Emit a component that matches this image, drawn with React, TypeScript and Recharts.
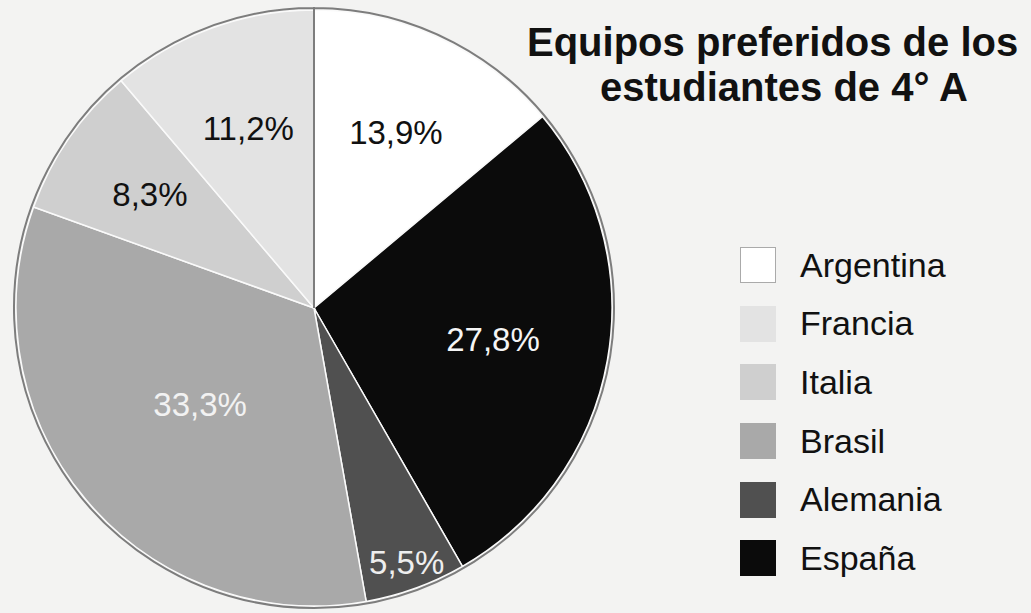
import { PieChart, Pie, Cell, Legend } from 'recharts';

// Equipos preferidos de los estudiantes de 4° A (porcentajes)
// orden en sentido horario desde las 12
const equipos = ['Argentina', 'España', 'Alemania', 'Brasil', 'Italia', 'Francia'];
const porcentajes = [13.9, 27.8, 5.5, 33.3, 8.3, 11.2];
const etiquetas = ['13,9%', '27,8%', '5,5%', '33,3%', '8,3%', '11,2%'];
const ordenLeyenda = ['Argentina', 'Francia', 'Italia', 'Brasil', 'Alemania', 'España'];

const colores: Record<string, string> = {
  Argentina: '#ffffff',
  España: '#0b0b0b',
  Alemania: '#505050',
  Brasil: '#a9a9a9',
  Italia: '#cfcfcf',
  Francia: '#e3e3e3',
};
const colorTexto: Record<string, string> = {
  Argentina: '#111',
  España: '#f5f5f5',
  Alemania: '#eeeeee',
  Brasil: '#f2f2f2',
  Italia: '#111',
  Francia: '#111',
};
// how far out each label sits (fraction of radius)
const radioEtiqueta: Record<string, number> = {
  Argentina: 0.65,
  España: 0.61,
  Alemania: 0.91,
  Brasil: 0.5,
  Italia: 0.67,
  Francia: 0.64,
};

const data = equipos.map((nombre, i) => ({ nombre, valor: porcentajes[i], etiqueta: etiquetas[i] }));

const RAD = Math.PI / 180;

function renderLabel(props: any) {
  const { cx, cy, midAngle, outerRadius, payload } = props;
  const r = outerRadius * radioEtiqueta[payload.nombre];
  const x = cx + r * Math.cos(-midAngle * RAD);
  const y = cy + r * Math.sin(-midAngle * RAD);
  return (
    <text
      x={x}
      y={y}
      textAnchor="middle"
      dominantBaseline="central"
      fill={colorTexto[payload.nombre]}
      style={{ fontSize: 33, fontFamily: 'Liberation Sans, Arial, sans-serif' }}
    >
      {payload.etiqueta}
    </text>
  );
}

function Leyenda() {
  return (
    <div style={{ fontFamily: 'Liberation Sans, Arial, sans-serif' }}>
      {ordenLeyenda.map((nombre) => (
        <div key={nombre} style={{ display: 'flex', alignItems: 'center', height: 58.6 }}>
          <div
            style={{
              width: 36,
              height: 36,
              background: colores[nombre],
              border: nombre === 'Argentina' ? '1.5px solid #aaa' : 'none',
              boxSizing: 'border-box',
              marginRight: 24,
            }}
          />
          <span style={{ fontSize: 34, color: '#111' }}>{nombre}</span>
        </div>
      ))}
    </div>
  );
}

export default function App() {
  return (
    <div
      style={{
        position: 'absolute',
        left: 0,
        top: 0,
        width: 1031,
        height: 613,
        background: '#f3f3f2',
        overflow: 'hidden',
      }}
    >
      <div
        style={{
          position: 'absolute',
          left: 527,
          top: 20,
          fontFamily: 'Liberation Sans, Arial, sans-serif',
          fontWeight: 'bold',
          fontSize: 40,
          lineHeight: '45px',
          color: '#111',
          whiteSpace: 'nowrap',
        }}
      >
        <div>Equipos preferidos de los</div>
        <div style={{ marginLeft: 73 }}>estudiantes de 4° A</div>
      </div>
      <PieChart width={1031} height={613} style={{ position: 'absolute', left: 0, top: 0 }}>
        <Pie
          data={data}
          dataKey="valor"
          nameKey="nombre"
          cx={309}
          cy={303}
          outerRadius={298}
          startAngle={90}
          endAngle={-270}
          stroke="#fafafa"
          strokeWidth={1.5}
          label={renderLabel}
          labelLine={false}
          isAnimationActive={false}
        >
          {data.map((d) => (
            <Cell key={d.nombre} fill={colores[d.nombre]} />
          ))}
        </Pie>
        <Pie
          data={[{ valor: 1 }]}
          dataKey="valor"
          cx={309}
          cy={303}
          outerRadius={300}
          startAngle={90}
          endAngle={-270}
          fill="none"
          stroke="#7d7d7d"
          strokeWidth={2}
          isAnimationActive={false}
        />
        <Legend
          content={() => <Leyenda />}
          layout="vertical"
          wrapperStyle={{ position: 'absolute', left: 740, top: 236, width: 260 }}
        />
      </PieChart>
    </div>
  );
}
